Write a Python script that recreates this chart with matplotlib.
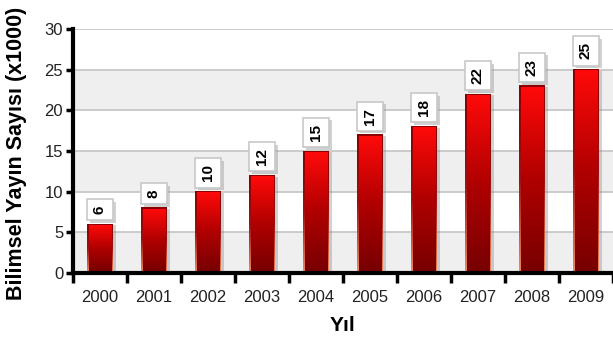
import matplotlib
matplotlib.use("Agg")
import matplotlib.pyplot as plt
import matplotlib.patheffects as pe
from matplotlib.colors import LinearSegmentedColormap
from matplotlib.patches import Rectangle
import numpy as np

years = ["2000", "2001", "2002", "2003", "2004", "2005", "2006", "2007", "2008", "2009"]
counts = [6, 8, 10, 12, 15, 17, 18, 22, 23, 25]
y_ticks = [0, 5, 10, 15, 20, 25, 30]

plt.rcParams["font.family"] = ["Liberation Sans", "DejaVu Sans"]

fig = plt.figure(figsize=(6.13, 3.49), dpi=100)
ax = fig.add_axes([0.119, 0.218, 0.881, 0.699])

# alternating bands and grid
for lo in range(0, 30, 10):
    ax.axhspan(lo, lo + 5, color="#efefef", zorder=0, lw=0)
for t in y_ticks[1:]:
    ax.axhline(t, color="#c4c4c4", lw=1.2, zorder=1)

inner = LinearSegmentedColormap.from_list("inner", ["#780000", "#b00000", "#ff0a0a"])
outer = LinearSegmentedColormap.from_list("outer", ["#f08a60", "#a01010", "#8b0000"])
grad = np.linspace(0, 1, 256).reshape(-1, 1)

w = 0.48
for i, v in enumerate(counts):
    # shadow
    ax.add_patch(Rectangle((i - w / 2 + 0.06, 0), w, v - 0.15, fc="#808080",
                           alpha=0.35, lw=0, zorder=2))
    ax.imshow(grad, extent=(i - w / 2, i + w / 2, 0, v), origin="lower",
              cmap=outer, aspect="auto", zorder=3)
    ax.imshow(grad, extent=(i - w / 2 + 0.035, i + w / 2 - 0.035, 0.2, v - 0.2),
              origin="lower", cmap=inner, aspect="auto", zorder=4)
    t = ax.text(i, v + 1.25, str(v), rotation=90, ha="center", va="bottom",
                fontsize=11, fontweight="bold", color="black", zorder=6,
                bbox=dict(boxstyle="square,pad=0.4", fc="white", ec="#c8c8c8", lw=1.2))
    t.get_bbox_patch().set_path_effects(
        [pe.withSimplePatchShadow(offset=(2, -2), shadow_rgbFace="#999999", alpha=0.45)])

ax.set_xlim(-0.5, len(years) - 0.5)
ax.set_ylim(0, 30)

ax.set_xticks(np.arange(len(years)))
ax.set_xticklabels(years, fontsize=12, color="#222222")
ax.set_xticks(np.arange(len(years) + 1) - 0.5, minor=True)
ax.tick_params(axis="x", which="major", length=0, pad=12)
ax.tick_params(axis="x", which="minor", length=7, width=2.5, color="black")
ax.set_yticks(y_ticks)
ax.tick_params(axis="y", labelsize=12, labelcolor="#222222", length=5, width=2.5, pad=2)

for s in ["top", "right"]:
    ax.spines[s].set_visible(False)
for s in ["left", "bottom"]:
    ax.spines[s].set_linewidth(3)
    ax.spines[s].set_zorder(7)

ax.set_xlabel("Yıl", fontsize=15, fontweight="bold", labelpad=8)
ax.set_ylabel("Bilimsel Yayın Sayısı (x1000)", fontsize=15.5, fontweight="bold")
ax.yaxis.set_label_coords(-0.085, 0.49)

fig.savefig("out.png", dpi=100)
